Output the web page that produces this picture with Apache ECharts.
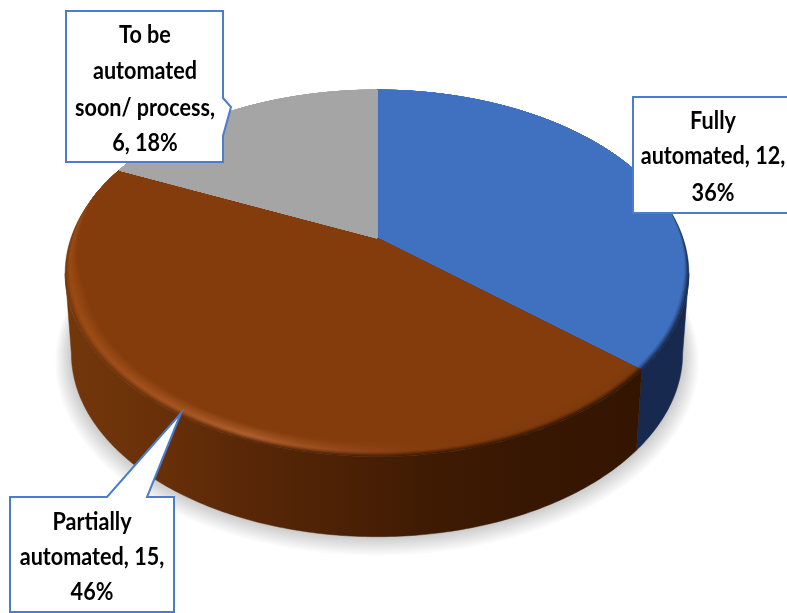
<!DOCTYPE html>
<html>
<head>
<meta charset="utf-8">
<style>html,body{margin:0;padding:0;background:#fff}#chart{width:787px;height:613px}</style>
<script src="https://cdn.jsdelivr.net/npm/echarts@6/dist/echarts.min.js"></script>
</head>
<body>
<div id="chart"></div>
<script>
// Automation status of the processes, clockwise from twelve o'clock
const categories = ['Fully automated', 'Partially automated', 'To be automated soon/ process'];
const counts = [12, 15, 6];
const percentLabels = ['36%', '46%', '18%'];
const labelLines = [
  ['Fully', 'automated, ' + counts[0] + ',', percentLabels[0]],
  ['Partially', 'automated, ' + counts[1] + ',', percentLabels[1]],
  ['To be', 'automated', 'soon/ process,', counts[2] + ', ' + percentLabels[2]]
];

// Perspective disc: a circle on a tilted plane, viewed from above
const disc = { cx: 377, cy: 238, a: 306, b: 176.5, k: 0.193, drop: 80, shrink: 0.98 };
const total = counts.reduce((s, v) => s + v, 0);

function project(theta, r) {
  const u = r * Math.sin(theta), v = -r * Math.cos(theta);
  const den = 1 - disc.k * v;
  return [disc.cx + disc.a * u / den, disc.cy + disc.b * v / den];
}
function lower(p) {
  return [disc.cx + (p[0] - disc.cx) * disc.shrink, p[1] + disc.drop];
}
function sliceRange(i) {
  const before = counts.slice(0, i).reduce((s, v) => s + v, 0);
  return [before / total * 2 * Math.PI, (before + counts[i]) / total * 2 * Math.PI];
}
function arc(t0, t1) {
  const out = [], n = Math.max(2, Math.ceil((t1 - t0) / (Math.PI / 240)));
  for (let j = 0; j <= n; j++) out.push(t0 + (t1 - t0) * j / n);
  return out;
}
// Rim angles where the disc outline turns from the far side to the near side
const silhouette = Math.acos(-disc.k);
const nearFrom = silhouette, nearTo = 2 * Math.PI - silhouette;

// The bevel only exists on the near half of the rim
function bevelWeight(theta) {
  const v = -Math.cos(theta);
  return Math.min(1, Math.max(0, (v + 0.25) / 0.55));
}
function hex(c) { return [1, 3, 5].map(i => parseInt(c.substr(i, 2), 16)); }
function mix(c1, c2, t) {
  const a = hex(c1), b = hex(c2);
  return 'rgb(' + a.map((x, i) => Math.round(x + (b[i] - x) * t)).join(',') + ')';
}

const stopX = [65, 150, 250, 340, 420, 520, 689];
const faceColors = ['#4070c0', '#843c0c', '#a5a5a5'];
const wallColors = [
  ['#17294f', '#17294f', '#17294f', '#17294f', '#17294f', '#17294f', '#17294f'],
  ['#73370b', '#6a3109', '#582707', '#4c2105', '#401b03', '#381702', '#321401'],
  ['#7c7c7c', '#7c7c7c', '#7c7c7c', '#7c7c7c', '#7c7c7c', '#7c7c7c', '#7c7c7c']
];
const rimColors = [
  ['#4070c0', '#4070c0', '#4070c0', '#4070c0', '#4070c0', '#4070c0', '#4070c0'],
  ['#9a4a12', '#a5521e', '#b0602e', '#96491a', '#843c0c', '#7f3a0c', '#7f3a0c'],
  ['#a5a5a5', '#a5a5a5', '#a5a5a5', '#a5a5a5', '#a5a5a5', '#a5a5a5', '#a5a5a5']
];
function gradient(colors) {
  return {
    type: 'linear', global: true, x: stopX[0], y: 0, x2: stopX[stopX.length - 1], y2: 0,
    colorStops: colors.map((c, i) => ({
      offset: (stopX[i] - stopX[0]) / (stopX[stopX.length - 1] - stopX[0]), color: c
    }))
  };
}

// Soft ground shadow: translucent discs growing outwards from the base
function renderShadow() {
  const children = [];
  const steps = 10, spread = 0.05, lift = 5;
  for (let s = steps; s >= 1; s--) {
    const pts = arc(0, 2 * Math.PI).map(t => {
      const p = lower(project(t, 1 + spread * s / steps));
      return [p[0], p[1] + lift * s / steps];
    });
    children.push({ type: 'polygon', shape: { points: pts }, style: { fill: 'rgba(0,0,0,0.018)' } });
  }
  return { type: 'group', children };
}
// Side wall of one slice: only the part facing the viewer
function renderWall(params) {
  const i = params.dataIndex, range = sliceRange(i);
  const t0 = Math.max(range[0], nearFrom), t1 = Math.min(range[1], nearTo);
  if (t1 <= t0) return null;
  const top = arc(t0, t1).map(t => project(t, 1));
  const bottom = top.map(lower).reverse();
  const fill = gradient(wallColors[i]);
  return { type: 'polygon', shape: { points: top.concat(bottom) }, style: { fill, stroke: fill, lineWidth: 0.5 } };
}
// Top face of one slice, built from the bevelled rim inwards
function renderFace(params) {
  const i = params.dataIndex, [t0, t1] = sliceRange(i);
  const layers = 12, width = 0.055, children = [];
  for (let l = 0; l <= layers; l++) {
    const t = l / layers;
    const colors = wallColors[i].map((w, s) => t < 0.3
      ? mix(w, rimColors[i][s], t / 0.3)
      : mix(rimColors[i][s], faceColors[i], (t - 0.3) / 0.7));
    const fill = gradient(colors);
    const rim = arc(t0, t1).map(a => project(a, 1 - width * t * bevelWeight(a)));
    children.push({
      type: 'polygon',
      shape: { points: [project(0, 0)].concat(rim) },
      style: { fill, stroke: fill, lineWidth: 0.5 }
    });
  }
  return { type: 'group', children };
}

// Callout outlines and where their text sits, in slice order
const callouts = [
  { outline: [[633, 97], [800, 97], [800, 213], [633, 213]], textX: 713, textY: [121, 156, 193] },
  { outline: [[10, 497], [107, 497], [181, 413], [147, 497], [174, 497], [174, 612], [10, 612]], textX: 92, textY: [522, 557, 592] },
  { outline: [[66, 11], [223, 11], [223, 98], [231, 107], [223, 136], [223, 162], [66, 162]], textX: 145, textY: [35, 71, 108, 143] }
];
function renderCallout(params) {
  const i = params.dataIndex, c = callouts[i];
  const children = [{
    type: 'polygon', shape: { points: c.outline },
    style: { fill: '#ffffff', stroke: '#4a7dcd', lineWidth: 2, lineJoin: 'miter' }
  }];
  labelLines[i].forEach((line, n) => children.push({
    type: 'text', x: c.textX, y: c.textY[n], scaleX: 0.9,
    style: { text: line, font: 'bold 24px Lato', fill: '#000000', align: 'center', verticalAlign: 'middle' }
  }));
  return { type: 'group', children };
}

const rows = categories.map((name, i) => ({ name, value: counts[i] }));
const layer = (z, renderItem) => ({
  type: 'custom', coordinateSystem: 'none', silent: true, clip: false, z, data: rows, renderItem
});

const chart = echarts.init(document.getElementById('chart'), null, { renderer: 'canvas' });
chart.setOption({
  animation: false,
  backgroundColor: '#ffffff',
  series: [
    Object.assign(layer(1, renderShadow), { data: [rows[0]] }),
    layer(2, renderWall),
    layer(3, renderFace),
    layer(4, renderCallout)
  ]
});
</script>
</body>
</html>
